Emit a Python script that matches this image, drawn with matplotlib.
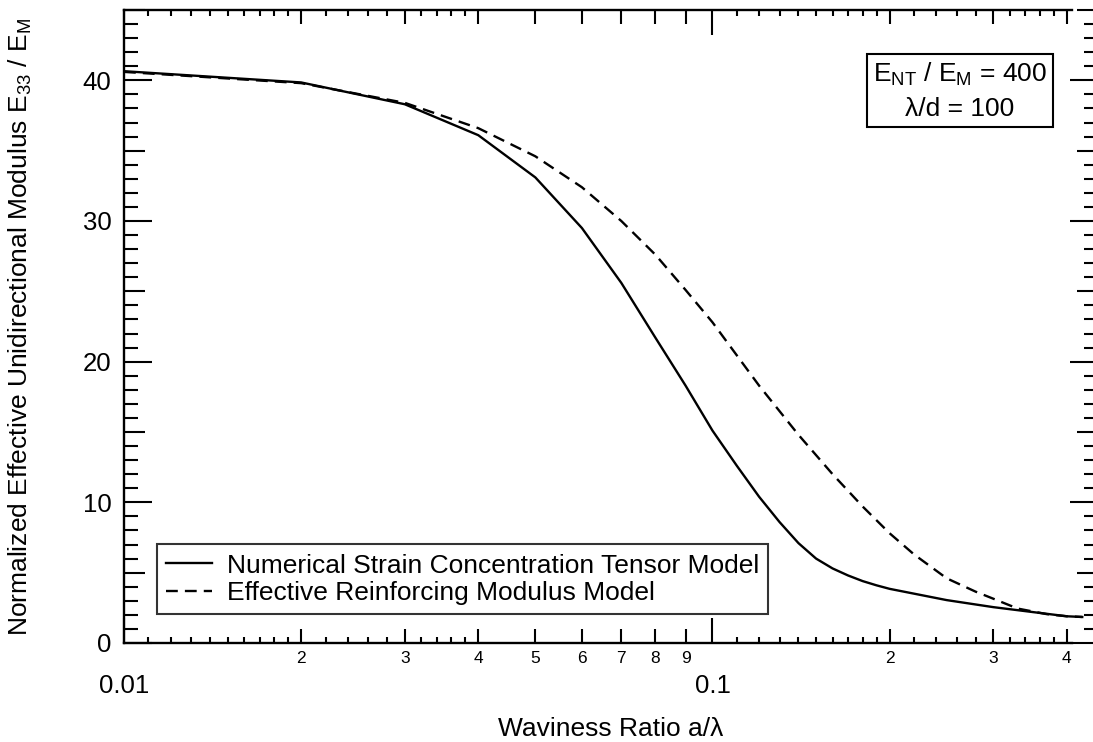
import numpy as np
import matplotlib
matplotlib.use("Agg")
import matplotlib.pyplot as plt
from matplotlib.ticker import FixedLocator, FixedFormatter, NullLocator

plt.rcParams['font.family'] = ['Liberation Sans', 'DejaVu Sans']
plt.rcParams['mathtext.fontset'] = 'custom'
plt.rcParams['mathtext.rm'] = 'Liberation Sans'
plt.rcParams['mathtext.it'] = 'Liberation Sans'

# ---- data ----
x_numerical = [0.01, 0.02, 0.03, 0.04, 0.05, 0.06, 0.07, 0.08, 0.09, 0.10,
               0.11, 0.12, 0.13, 0.14, 0.15, 0.16, 0.17, 0.18, 0.19, 0.20,
               0.25, 0.30, 0.35, 0.40, 0.425]
y_numerical = [40.65, 39.85, 38.3, 36.1, 33.1, 29.5, 25.6, 21.7, 18.3, 15.1,
               12.6, 10.4, 8.6, 7.1, 6.0, 5.3, 4.8, 4.4, 4.1, 3.85,
               3.05, 2.55, 2.2, 1.9, 1.85]

x_effective = [0.01, 0.02, 0.03, 0.04, 0.05, 0.06, 0.07, 0.08, 0.09, 0.10,
               0.12, 0.14, 0.16, 0.18, 0.20, 0.22, 0.25, 0.28, 0.30, 0.33,
               0.37, 0.40, 0.425]
y_effective = [40.6, 39.8, 38.4, 36.6, 34.6, 32.4, 30.0, 27.6, 25.1, 22.8,
               18.3, 14.8, 12.0, 9.7, 7.8, 6.3, 4.6, 3.65, 3.15, 2.45,
               2.05, 1.9, 1.85]

series_labels = ["Numerical Strain Concentration Tensor Model",
                 "Effective Reinforcing Modulus Model"]

x_decade_ticks = [0.01, 0.1]
x_decade_labels = ["0.01", "0.1"]
x_mid_ticks = [0.02, 0.03, 0.04, 0.05, 0.06, 0.07, 0.08, 0.09, 0.2, 0.3, 0.4]
x_mid_labels = ["2", "3", "4", "5", "6", "7", "8", "9", "2", "3", "4"]
x_small_ticks = ([0.011, 0.012, 0.013, 0.014, 0.015, 0.016, 0.017, 0.018, 0.019,
                  0.022, 0.024, 0.026, 0.028, 0.032, 0.034, 0.036, 0.038,
                  0.11, 0.12, 0.13, 0.14, 0.15, 0.16, 0.17, 0.18, 0.19,
                  0.22, 0.24, 0.26, 0.28, 0.32, 0.34, 0.36, 0.38])

y_major_ticks = [0, 10, 20, 30, 40]
y_mid_ticks = [5, 15, 25, 35, 45]
y_small_ticks = [v for v in range(0, 46) if v % 5 != 0]

x_limits = (0.01, 0.452)
x_spine_end = 0.408
y_limits = (0, 45)

# ---- figure ----
W, H = 1093, 742
fig = plt.figure(figsize=(W / 100, H / 100), dpi=100)
left_px, right_px, top_px, bottom_px = 124, 1098, 10, 643
ax = fig.add_axes([left_px / W, 1 - bottom_px / H,
                   (right_px - left_px) / W, (bottom_px - top_px) / H])

ax.plot(x_numerical, y_numerical, color='black', lw=1.7, solid_joinstyle='round',
        label=series_labels[0])
ax.plot(x_effective, y_effective, color='black', lw=1.7, dashes=(5, 3),
        label=series_labels[1])

ax.set_xscale('log')
ax.set_xlim(*x_limits)
ax.set_ylim(*y_limits)

spine_lw = 1.7
for s in ax.spines.values():
    s.set_linewidth(spine_lw)
ax.spines['bottom'].set_bounds(x_limits[0], x_spine_end)
ax.spines['top'].set_bounds(x_limits[0], x_spine_end)

big = 18.5

# x ticks
ax.xaxis.set_major_locator(FixedLocator(x_decade_ticks))
ax.xaxis.set_major_formatter(FixedFormatter(x_decade_labels))
ax.xaxis.set_minor_locator(FixedLocator(x_mid_ticks))
ax.xaxis.set_minor_formatter(FixedFormatter(x_mid_labels))
ax.tick_params(axis='x', which='major', direction='in', length=18, width=1.5,
               top=True, bottom=True, labelsize=big, pad=22)
ax.tick_params(axis='x', which='minor', direction='in', length=10, width=1.5,
               top=True, bottom=True, labelsize=12.5, pad=6)

# y ticks
ax.yaxis.set_major_locator(FixedLocator(y_major_ticks))
ax.yaxis.set_minor_locator(FixedLocator(y_mid_ticks))
ax.tick_params(axis='y', which='major', direction='in', length=20, width=1.5,
               left=True, right=True, labelsize=big, pad=9)
ax.tick_params(axis='y', which='minor', direction='in', length=15, width=1.5,
               left=True, right=True)

# smallest ticks via secondary axes
for loc in ['bottom', 'top']:
    sec = ax.secondary_xaxis(loc)
    sec.xaxis.set_major_locator(FixedLocator(x_small_ticks))
    sec.xaxis.set_minor_locator(NullLocator())
    sec.tick_params(axis='x', which='major', direction='in', length=4, width=1.5,
                    labelbottom=False, labeltop=False)
    for s in sec.spines.values():
        s.set_visible(False)
for loc in ['left', 'right']:
    sec = ax.secondary_yaxis(loc)
    sec.yaxis.set_major_locator(FixedLocator(y_small_ticks))
    sec.yaxis.set_minor_locator(NullLocator())
    sec.tick_params(axis='y', which='major', direction='in', length=10, width=1.5,
                    labelleft=False, labelright=False)
    for s in sec.spines.values():
        s.set_visible(False)

ax.set_xlabel('Waviness Ratio a/λ', fontsize=19)
ax.xaxis.set_label_coords(0.5, -0.117)
ax.set_ylabel('Normalized Effective Unidirectional Modulus E$_{33}$ / E$_{\\mathrm{M}}$',
              fontsize=19)
ax.yaxis.set_label_coords(-0.092, 0.5)

leg = ax.legend(loc='lower left', bbox_to_anchor=(33 / 974, 29 / 633),
                borderaxespad=0, fontsize=19, frameon=True, fancybox=False,
                handlelength=1.75, handletextpad=0.55, borderpad=0.35,
                labelspacing=0.12, edgecolor='black')
leg.get_frame().set_linewidth(1.5)

ax.text(0.858, 0.872, 'E$_{\\mathrm{NT}}$ / E$_{\\mathrm{M}}$ = 400\nλ/d = 100',
        transform=ax.transAxes, ha='center', va='center', fontsize=19,
        multialignment='center', linespacing=1.45,
        bbox=dict(boxstyle='square,pad=0.22', facecolor='white',
                  edgecolor='black', linewidth=1.5))

fig.savefig('out.png', dpi=100)
